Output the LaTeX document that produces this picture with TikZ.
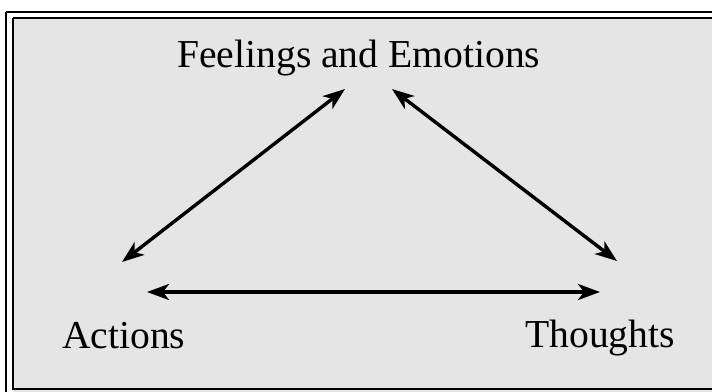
\documentclass[tikz,border=0pt]{standalone}
\usepackage{fontspec}
\setmainfont{Liberation Serif}
\usetikzlibrary{arrows.meta}
\begin{document}
\begin{tikzpicture}[x=1pt,y=-1pt,
  lbl/.style={inner sep=0pt, anchor=base west, font=\fontsize{39.6}{46}\selectfont},
  link/.style={line width=3.4pt, {Stealth[length=22pt,width=16pt,inset=6pt]}-{Stealth[length=22pt,width=16pt,inset=6pt]}}]
\useasboundingbox (0,0) rectangle (712,391);
\fill[white] (0,0) rectangle (712,391);
\begin{scope}
\clip (0,0) rectangle (712,391);
\fill[black!10] (13,18) rectangle (720,400);
\draw[line width=1.8pt] (6,12) -- (6,410);
\draw[line width=1.8pt] (6,12) -- (730,12);
\draw[line width=2.4pt] (13,18) -- (13,389) -- (720,389);
\draw[line width=2.4pt] (13,18) -- (720,18);
\end{scope}
\node[lbl] (fe) at (177,67) {Feelings and Emotions};
\node[lbl] (ac) at (62,348) {Actions};
\node[lbl] (th) at (525,347) {Thoughts};
\coordinate (feL) at (345,89);
\coordinate (feR) at (392,89);
\coordinate (acT) at (122,262);
\coordinate (acR) at (147,292);
\coordinate (thT) at (617,261);
\coordinate (thL) at (600,292);
\draw[link] (acT) -- (feL);
\draw[link] (feR) -- (thT);
\draw[link] (acR) -- (thL);
\end{tikzpicture}
\end{document}
